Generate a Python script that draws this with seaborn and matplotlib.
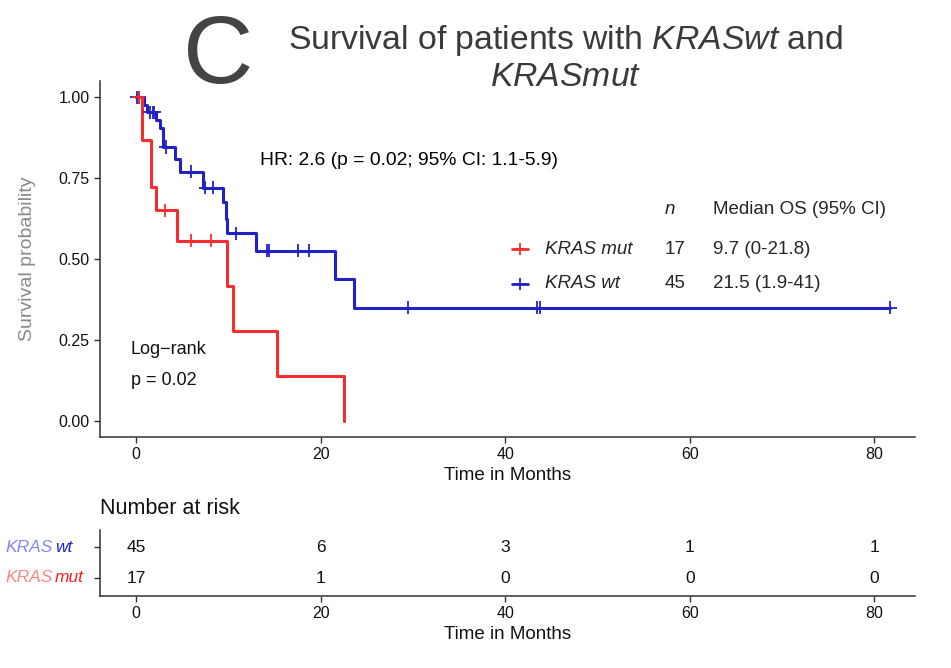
import numpy as np
import pandas as pd
import matplotlib
matplotlib.use("Agg")
import matplotlib.pyplot as plt
import seaborn as sns

# ---------------- data ----------------
groups = ["KRAS wt", "KRAS mut"]
mut_time = [0, 0.6, 1.6, 2.2, 4.4, 9.9, 10.5, 15.3, 22.5]
mut_surv = [1.0, 0.867, 0.722, 0.65, 0.557, 0.418, 0.279, 0.139, 0.0]
mut_cens_time = [0.3, 3.1, 6.0, 8.1]

wt_time = [0, 0.9, 1.2, 2.2, 2.6, 2.9, 4.2, 4.8, 7.3, 9.4, 9.7, 9.9, 13.0, 21.6, 23.6, 81.7]
wt_surv = [1.0, 0.977, 0.953, 0.929, 0.905, 0.846, 0.81, 0.77, 0.72, 0.675, 0.625, 0.58,
           0.525, 0.438, 0.349, 0.349]
wt_cens_time = [0.1, 0.35, 1.5, 1.8, 2.0, 3.2, 6.0, 7.5, 8.3, 10.8, 14.2, 14.4, 17.5, 18.7,
                29.5, 43.5, 43.8, 81.7]

legend_n = [17, 45]
legend_median = ["9.7 (0-21.8)", "21.5 (1.9-41)"]

risk_times = [0, 20, 40, 60, 80]
risk_wt = [45, 6, 3, 1, 1]
risk_mut = [17, 1, 0, 0, 0]

x_ticks = [0, 20, 40, 60, 80]
y_ticks = [0.0, 0.25, 0.5, 0.75, 1.0]
y_ticklabels = ["0.00", "0.25", "0.50", "0.75", "1.00"]

RED = "#f42e2e"
BLUE = "#2222c4"
palette = {"KRAS mut": RED, "KRAS wt": BLUE}


def step_value(times, survs, t):
    idx = np.searchsorted(np.asarray(times), t, side="right") - 1
    return survs[max(idx, 0)]


curves = pd.concat([
    pd.DataFrame({"time": wt_time, "surv": wt_surv, "group": "KRAS wt"}),
    pd.DataFrame({"time": mut_time, "surv": mut_surv, "group": "KRAS mut"}),
], ignore_index=True)
cens = pd.concat([
    pd.DataFrame({"time": wt_cens_time,
                  "surv": [step_value(wt_time, wt_surv, t) for t in wt_cens_time],
                  "group": "KRAS wt"}),
    pd.DataFrame({"time": mut_cens_time,
                  "surv": [step_value(mut_time, mut_surv, t) for t in mut_cens_time],
                  "group": "KRAS mut"}),
], ignore_index=True)

# ---------------- style ----------------
sns.set_style("ticks")
plt.rcParams["font.family"] = ["Liberation Sans", "DejaVu Sans"]
plt.rcParams["mathtext.fontset"] = "custom"
plt.rcParams["mathtext.rm"] = "Liberation Sans"
plt.rcParams["mathtext.it"] = "Liberation Sans:italic"

fig = plt.figure(figsize=(9.51, 6.68), dpi=100)
W, H = 951, 668


def fx(px):
    return px / W


def fy(py):
    return 1 - py / H


ax = fig.add_axes([fx(100), fy(437), fx(915) - fx(100), fy(81) - fy(437)])
sns.lineplot(data=curves, x="time", y="surv", hue="group", palette=palette,
             drawstyle="steps-post", estimator=None, sort=False, linewidth=2.2,
             legend=False, ax=ax)
sns.scatterplot(data=cens, x="time", y="surv", hue="group", palette=palette,
                marker="+", s=90, linewidth=1.3, legend=False, ax=ax, zorder=4)

ax.set_xlim(-3.9, 84.4)
ax.set_ylim(-0.05, 1.05)
ax.set_xticks(x_ticks)
ax.set_yticks(y_ticks)
ax.set_yticklabels(y_ticklabels)
ax.set_xlabel("Time in Months", fontsize=13.5, color="#111111", labelpad=3)
ax.set_ylabel("Survival probability", fontsize=14, color="#8a8a8a", labelpad=16)
ax.tick_params(axis="both", labelsize=11.5, length=4, width=1, color="#333333",
               labelcolor="#111111")
for s in ["top", "right"]:
    ax.spines[s].set_visible(False)
for s in ["left", "bottom"]:
    ax.spines[s].set_color("#333333")
    ax.spines[s].set_linewidth(1.1)

# annotations
ax.text(0.196, 0.778, "HR: 2.6 (p = 0.02; 95% CI: 1.1-5.9)", transform=ax.transAxes,
        fontsize=13.9, va="center", ha="left", color="#000000")
ax.text(0.038, 0.246, "Log\u2212rank", transform=ax.transAxes, fontsize=13,
        va="center", ha="left", color="#111111")
ax.text(0.038, 0.158, "p = 0.02", transform=ax.transAxes, fontsize=13,
        va="center", ha="left", color="#111111")

# legend table
ax.text(0.693, 0.638, "n", style="italic", transform=ax.transAxes, fontsize=13.5,
        va="center", ha="left")
ax.text(0.752, 0.638, "Median OS (95% CI)", transform=ax.transAxes, fontsize=13.5,
        va="center", ha="left")
leg_rows = [("KRAS mut", RED, 0.528), ("KRAS wt", BLUE, 0.430)]
for (name, col, yy), n, med in zip(leg_rows, legend_n, legend_median):
    ax.plot([0.505, 0.525], [yy, yy], transform=ax.transAxes, color=col, lw=2,
            clip_on=False)
    ax.plot([0.515], [yy], transform=ax.transAxes, color=col, marker="+", ms=8,
            mew=1.3, clip_on=False)
    ax.text(0.546, yy, name, style="italic", transform=ax.transAxes, fontsize=13.5,
            va="center", ha="left")
    ax.text(0.693, yy, str(n), transform=ax.transAxes, fontsize=13.5, va="center",
            ha="left")
    ax.text(0.752, yy, med, transform=ax.transAxes, fontsize=13.5, va="center",
            ha="left")

# title
fig.text(fx(218), fy(58), "C", fontsize=70, color="#444444", ha="center", va="center")
fig.text(fx(566), fy(40), r"Survival of patients with $\it{KRASwt}$ and",
         fontsize=24.3, color="#3a3a3a", ha="center", va="center")
fig.text(fx(566), fy(77), r"$\it{KRASmut}$", fontsize=24.3, color="#3a3a3a",
         ha="center", va="center")

# ---------------- risk table ----------------
rax = fig.add_axes([fx(100), fy(596), fx(915) - fx(100), fy(530) - fy(596)])
risk_df = pd.concat([
    pd.DataFrame({"time": risk_times, "n": risk_wt, "row": 2}),
    pd.DataFrame({"time": risk_times, "n": risk_mut, "row": 1}),
], ignore_index=True)
for _, r in risk_df.iterrows():
    rax.text(r["time"], r["row"], str(int(r["n"])), ha="center", va="center",
             fontsize=12.5, color="#111111")
rax.set_xlim(-3.9, 84.4)
rax.set_ylim(0.42, 2.55)
rax.set_xticks(x_ticks)
rax.set_yticks([2, 1])
rax.set_yticklabels(["", ""])
rax.set_xlabel("Time in Months", fontsize=13.5, color="#111111", labelpad=3)
rax.tick_params(axis="both", labelsize=11.5, length=4, width=1, color="#333333",
                labelcolor="#111111")
for s in ["top", "right"]:
    rax.spines[s].set_visible(False)
for s in ["left", "bottom"]:
    rax.spines[s].set_color("#333333")
    rax.spines[s].set_linewidth(1.1)

fig.text(fx(100), fy(508), "Number at risk", fontsize=15.5, ha="left", va="center",
         color="#111111")
fig.text(fx(5), fy(547), "KRAS", style="italic", fontsize=12.5, color="#8585f5",
         ha="left", va="center")
fig.text(fx(55), fy(547), "wt", style="italic", fontsize=12.5, color="#2020d8",
         ha="left", va="center")
fig.text(fx(5), fy(578), "KRAS", style="italic", fontsize=12.5, color="#ff8585",
         ha="left", va="center")
fig.text(fx(55), fy(578), "mut", style="italic", fontsize=12.5, color="#ff2020",
         ha="left", va="center")

fig.savefig("out.png", dpi=100, facecolor="white")
